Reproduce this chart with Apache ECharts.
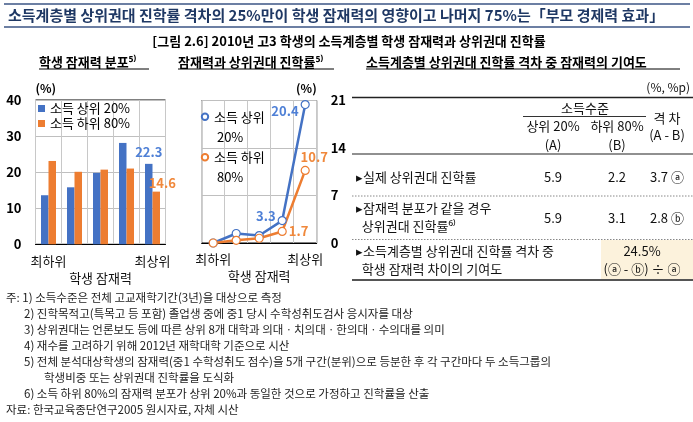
<!DOCTYPE html>
<html>
<head>
<meta charset="utf-8">
<script src="https://cdn.jsdelivr.net/npm/echarts@6/dist/echarts.min.js"></script>
<style>
html, body { margin: 0; padding: 0; background: #fff; }
#figure { width: 693px; height: 422px; }
</style>
</head>
<body>
<div id="figure"></div>
<script>
// Data
var categories = ['최하위', '2분위', '3분위', '4분위', '최상위'];
var distTop20 = [13.6, 15.8, 19.8, 28.1, 22.3];
var distBottom80 = [23.1, 20.1, 20.7, 21.0, 14.6];
var rateTop20 = [0, 1.4, 1.1, 3.3, 20.4];
var rateBottom80 = [0, 0.4, 0.7, 1.7, 10.7];
var seriesNames = ['소득 상위 20%', '소득 하위 80%'];
var distTicks = [0, 40, 10];
var rateTicks = [0, 21, 7];

// Table
var rowLabels = [
    ['▸실제 상위권대 진학률'],
    ['▸잠재력 분포가 같을 경우', '  상위권대 진학률⁶⁾'],
    ['▸소득계층별 상위권대 진학률 격차 중', '  학생 잠재력 차이의 기여도']
];
var colA = ['5.9', '5.9'];
var colB = ['2.2', '3.1'];
var colGap = ['3.7 ⓐ', '2.8 ⓑ'];
var contribution = ['24.5%', '(ⓐ - ⓑ) ÷ ⓐ'];

var notes = [
    '주: 1) 소득수준은 전체 고교재학기간(3년)을 대상으로 측정',
    '2) 진학목적고(특목고 등 포함) 졸업생 중에 중1 당시 수학성취도검사 응시자를 대상',
    '3) 상위권대는 언론보도 등에 따른 상위 8개 대학과 의대ㆍ치의대ㆍ한의대ㆍ수의대를 의미',
    '4) 재수를 고려하기 위해 2012년 재학대학 기준으로 시산',
    '5) 전체 분석대상학생의 잠재력(중1 수학성취도 점수)을 5개 구간(분위)으로 등분한 후 각 구간마다 두 소득그룹의',
    '학생비중 또는 상위권대 진학률을 도식화',
    '6) 소득 하위 80%의 잠재력 분포가 상위 20%과 동일한 것으로 가정하고 진학률을 산출',
    '자료: 한국교육종단연구2005 원시자료, 자체 시산'
];

var FigureReport = function() {

    var FONT = '"Noto Sans CJK KR", "Noto Sans", sans-serif';
    var BLUE = '#4472C4';
    var ORANGE = '#ED7D31';

    var _figure = function() {
        if (typeof echarts == 'undefined') {
            console.warn('Warning - echarts.min.js is not loaded.');
            return;
        }

        var element = document.getElementById('figure');
        if (!element) return;

        var chart = echarts.init(element, null, { renderer: 'canvas' });

        //
        // Shared axis pieces
        //
        var catAxis = function(gridIndex) {
            return {
                type: 'category',
                gridIndex: gridIndex,
                data: categories,
                name: '학생 잠재력',
                nameLocation: 'middle',
                nameGap: 27,
                nameTextStyle: { fontFamily: FONT, fontSize: 13, color: '#111' },
                axisLine: { lineStyle: { color: '#000', width: 1 } },
                axisTick: { show: false },
                axisLabel: {
                    interval: 0,
                    margin: 10,
                    fontFamily: FONT,
                    fontSize: 13,
                    color: '#111',
                    formatter: function(v, i) {
                        return (i === 0 || i === categories.length - 1) ? v : '';
                    }
                },
                splitLine: { show: true, lineStyle: { color: '#c8c8c8', width: 1 } }
            };
        };

        var valAxis = function(gridIndex, ticks, position, align) {
            return {
                type: 'value',
                gridIndex: gridIndex,
                position: position,
                min: ticks[0],
                max: ticks[1],
                interval: ticks[2],
                name: '(%)',
                nameLocation: 'end',
                nameGap: 6,
                nameTextStyle: { fontFamily: FONT, fontSize: 12, fontWeight: 'bold', color: '#000', align: align },
                axisLine: { show: false },
                axisTick: { show: false },
                axisLabel: { margin: 14, fontFamily: FONT, fontSize: 13, fontWeight: 'bold', color: '#000' },
                splitLine: { lineStyle: { color: '#bfbfbf', width: 1 } }
            };
        };

        // Line chart point labels
        var lineLabels = {
            top: {
                3: { show: true, position: 'left', distance: 2, offset: [0, -5] },
                4: { show: true, position: 'left', distance: 2, offset: [0, 6] }
            },
            bottom: {
                3: { show: true, position: 'right', distance: 2, offset: [0, 0] },
                4: { show: true, position: 'top', distance: 5, offset: [9, 3] }
            }
        };
        var withLabels = function(values, opts) {
            return values.map(function(v, i) {
                return opts[i] ? { value: v, label: opts[i] } : v;
            });
        };

        //
        // Page texts and table
        //
        var graphics = [];
        var addText = function(x, y, text, style) {
            graphics.push({
                type: 'text', x: x, y: y, silent: true,
                style: Object.assign({
                    text: text, fontFamily: FONT, fontSize: 13, fill: '#111',
                    textAlign: 'left', textVerticalAlign: 'middle'
                }, style || {})
            });
        };
        var addLine = function(x1, y1, x2, y2, stroke, width, dash) {
            graphics.push({
                type: 'line', silent: true,
                shape: { x1: x1, y1: y1, x2: x2, y2: y2 },
                style: { stroke: stroke, lineWidth: width, lineDash: dash || null }
            });
        };

        // Title block
        addLine(4, 4, 690, 4, '#3b5584', 1.5);
        addLine(4, 27, 690, 27, '#3b5584', 1.5);
        addText(8, 15.5, '소득계층별 상위권대 진학률 격차의 25%만이 학생 잠재력의 영향이고 나머지 75%는「부모 경제력 효과」',
            { fontSize: 15, fontWeight: 'bold', fill: '#1f3864' });
        addText(349, 41, '[그림 2.6] 2010년 고3 학생의 소득계층별 학생 잠재력과 상위권대 진학률',
            { fontSize: 13, fontWeight: 'bold', fill: '#000', textAlign: 'center' });

        // Panel headers
        addText(39, 62, '학생 잠재력 분포⁵⁾', { fontWeight: 'bold', fill: '#000' });
        addLine(39, 69, 149, 69, '#000', 1);
        addText(178, 62, '잠재력과 상위권대 진학률⁵⁾', { fontWeight: 'bold', fill: '#000' });
        addLine(178, 69, 334, 69, '#000', 1);
        addText(366, 62, '소득계층별 상위권대 진학률 격차 중 잠재력의 기여도', { fontWeight: 'bold', fill: '#000' });
        addLine(366, 69, 680, 69, '#000', 1);

        // Table frame
        graphics.push({
            type: 'rect', silent: true,
            shape: { x: 601, y: 240, width: 92, height: 39.5 },
            style: { fill: '#fcf2dc' }
        });
        addText(690, 87, '(%, %p)', { fontSize: 12, textAlign: 'right' });
        addLine(352, 97.5, 693, 97.5, '#222', 1.5);
        addText(585, 108, '소득수준', { textAlign: 'center' });
        addLine(523, 116.5, 646, 116.5, '#333', 1);
        addText(553, 126, '상위 20%', { textAlign: 'center' });
        addText(617, 126, '하위 80%', { textAlign: 'center' });
        addText(553, 145, '(A)', { textAlign: 'center' });
        addText(617, 145, '(B)', { textAlign: 'center' });
        addText(667, 118, '격 차', { textAlign: 'center' });
        addText(667, 135, '(A - B)', { textAlign: 'center' });
        addLine(352, 154, 693, 154, '#222', 1.2);

        // Table rows
        addText(356, 177, rowLabels[0][0]);
        addText(553, 177, colA[0], { textAlign: 'center' });
        addText(617, 177, colB[0], { textAlign: 'center' });
        addText(667, 177, colGap[0], { textAlign: 'center' });
        addLine(352, 196, 693, 196, '#888', 1, [1.5, 1.5]);

        addText(356, 208, rowLabels[1][0]);
        addText(356, 226.5, rowLabels[1][1]);
        addText(553, 218, colA[1], { textAlign: 'center' });
        addText(617, 218, colB[1], { textAlign: 'center' });
        addText(667, 218, colGap[1], { textAlign: 'center' });
        addLine(352, 239.5, 693, 239.5, '#888', 1, [1.5, 1.5]);

        addText(356, 251, rowLabels[2][0]);
        addText(356, 269, rowLabels[2][1]);
        addText(642, 251, contribution[0], { textAlign: 'center' });
        addText(642, 269, contribution[1], { textAlign: 'center' });
        addLine(352, 280, 693, 280, '#555', 2);

        // Notes
        notes.forEach(function(line, i) {
            var indent = i === 0 || i === notes.length - 1 ? 6 : (i === 5 ? 44 : 24);
            addText(indent, 298 + i * 16, line, { fontSize: 11.5, fill: '#222' });
        });

        //
        // Chart config
        //
        chart.setOption({

            animation: false,

            textStyle: { fontFamily: FONT },

            // Two panels
            grid: [
                { left: 35.5, top: 100, width: 130, height: 144.3, show: true, borderColor: '#000', borderWidth: 1, containLabel: false },
                { left: 201.7, top: 100.5, width: 115, height: 142.5, show: true, borderColor: '#000', borderWidth: 1, containLabel: false }
            ],

            xAxis: [catAxis(0), catAxis(1)],
            yAxis: [valAxis(0, distTicks, 'left', 'left'), valAxis(1, rateTicks, 'right', 'right')],

            // Legends
            legend: [
                {
                    data: seriesNames.map(function(n) { return { name: n + ' ', icon: 'rect' }; }),
                    orient: 'vertical',
                    left: 38,
                    top: 102,
                    padding: 0,
                    itemGap: 2,
                    itemWidth: 7,
                    itemHeight: 7,
                    textStyle: { fontFamily: FONT, fontSize: 13, color: '#000' }
                },
                {
                    data: seriesNames,
                    orient: 'vertical',
                    left: 200,
                    top: 86.7,
                    padding: 0,
                    itemGap: -19.4,
                    itemWidth: 8,
                    itemHeight: 8,
                    // blank first line keeps the icon level with the first text line
                    formatter: function(name) {
                        return ' \n' + name.replace(/ (\d+%)$/, '\n $1');
                    },
                    textStyle: { fontFamily: FONT, fontSize: 13, color: '#000', lineHeight: 20 }
                }
            ],

            // Series
            series: [
                {
                    name: seriesNames[0] + ' ',
                    type: 'bar',
                    xAxisIndex: 0, yAxisIndex: 0,
                    data: distTop20,
                    barWidth: 7.5,
                    barGap: '0%',
                    itemStyle: { color: BLUE },
                    label: {
                        show: true, position: 'top', distance: 5,
                        fontFamily: FONT, fontSize: 13, fontWeight: 'bold', color: '#4f80d6',
                        formatter: function(p) { return p.dataIndex === categories.length - 1 ? p.value : ''; }
                    }
                },
                {
                    name: seriesNames[1] + ' ',
                    type: 'bar',
                    xAxisIndex: 0, yAxisIndex: 0,
                    data: distBottom80,
                    barWidth: 7.5,
                    barGap: '0%',
                    itemStyle: { color: ORANGE },
                    label: {
                        show: true, position: 'top', distance: 2, offset: [6, 0],
                        fontFamily: FONT, fontSize: 13, fontWeight: 'bold', color: '#f0883b',
                        formatter: function(p) { return p.dataIndex === categories.length - 1 ? p.value : ''; }
                    }
                },
                {
                    name: seriesNames[0],
                    type: 'line',
                    xAxisIndex: 1, yAxisIndex: 1,
                    data: withLabels(rateTop20, lineLabels.top),
                    symbol: 'circle',
                    symbolSize: 8,
                    lineStyle: { color: BLUE, width: 2.5 },
                    itemStyle: { color: '#fff', borderColor: BLUE, borderWidth: 1.2 },
                    label: { show: false, fontFamily: FONT, fontSize: 13, fontWeight: 'bold', color: '#4f80d6' }
                },
                {
                    name: seriesNames[1],
                    type: 'line',
                    xAxisIndex: 1, yAxisIndex: 1,
                    data: withLabels(rateBottom80, lineLabels.bottom),
                    symbol: 'circle',
                    symbolSize: 8,
                    lineStyle: { color: ORANGE, width: 2.5 },
                    itemStyle: { color: '#fff', borderColor: ORANGE, borderWidth: 1.2 },
                    label: { show: false, fontFamily: FONT, fontSize: 13, fontWeight: 'bold', color: '#f0883b' }
                }
            ],

            graphic: graphics
        });

        //
        // Resize charts
        //
        var resizeCharts;
        window.addEventListener('resize', function() {
            clearTimeout(resizeCharts);
            resizeCharts = setTimeout(function() {
                chart.resize();
            }, 200);
        });
    };

    return {
        init: function() {
            _figure();
        }
    };
}();

document.addEventListener('DOMContentLoaded', function() {
    FigureReport.init();
});
</script>
</body>
</html>
